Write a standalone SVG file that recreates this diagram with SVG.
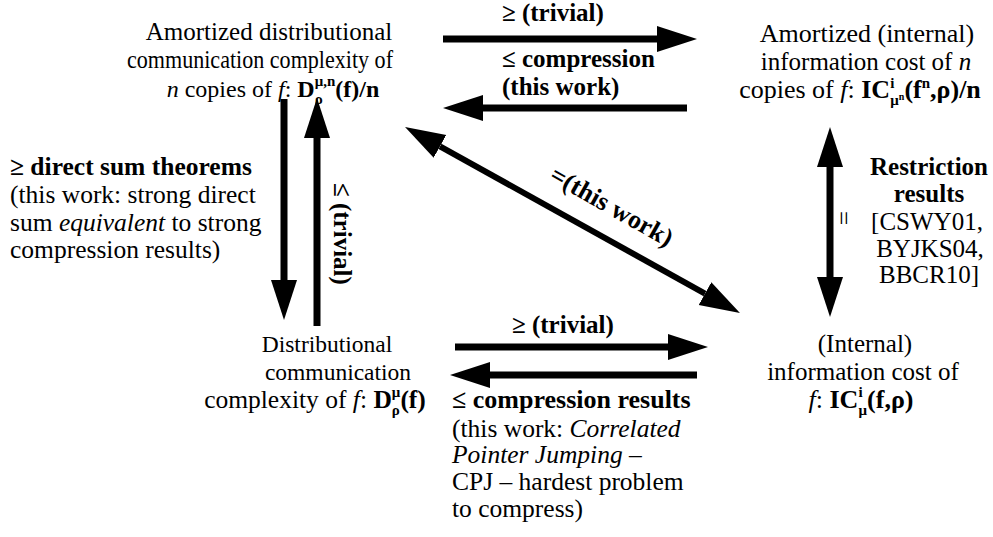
<svg xmlns="http://www.w3.org/2000/svg" width="993" height="537" viewBox="0 0 993 537">
<style>
text { font-family: "Liberation Serif", "Times New Roman", serif; font-size: 25px; fill: #000; }
.b { font-weight: bold; }
.i { font-style: italic; }
.m { text-anchor: middle; }
.ln { stroke: #000; stroke-width: 7; fill: none; }
</style>
<defs>
<marker id="ah" markerUnits="userSpaceOnUse" markerWidth="42" markerHeight="28" refX="0" refY="13" orient="auto-start-reverse" viewBox="0 0 42 28">
<polygon points="0,0 40,13 0,26" fill="#000"/>
</marker>
</defs>
<rect width="993" height="537" fill="#fff"/>

<g id="connectors">
<line class="ln" x1="443" y1="39" x2="657" y2="39" marker-end="url(#ah)"/>
<line class="ln" x1="687" y1="108" x2="483" y2="108" marker-end="url(#ah)"/>
<line class="ln" x1="284" y1="99" x2="284" y2="280" marker-end="url(#ah)"/>
<line class="ln" x1="317" y1="326" x2="317" y2="138" marker-end="url(#ah)"/>
<line class="ln" x1="440" y1="146.4" x2="705" y2="293.6" marker-start="url(#ah)" marker-end="url(#ah)" style="stroke-width:6"/>
<line class="ln" x1="830" y1="167" x2="830" y2="277" marker-start="url(#ah)" marker-end="url(#ah)"/>
<line class="ln" x1="455" y1="347" x2="668" y2="347" marker-end="url(#ah)"/>
<line class="ln" x1="697" y1="375" x2="490" y2="375" marker-end="url(#ah)"/>
</g>

<g id="n-amortized-dist">
<text class="m" x="269" y="40">Amortized distributional</text>
<text class="m" x="260" y="68" textLength="266" lengthAdjust="spacingAndGlyphs">communication complexity of</text>
<text class="m" x="273" y="97" style="font-size:24px"><tspan class="i">n</tspan> copies of <tspan class="i">f</tspan>: <tspan class="b">D</tspan><tspan class="b" font-size="15" dy="7">ρ</tspan><tspan class="b" font-size="15" dx="-8" dy="-18">μ,n</tspan><tspan class="b" dy="11">(f)/n</tspan></text>
</g>

<g id="n-amortized-ic">
<text class="m" x="867" y="42" style="font-size:26px">Amortized (internal)</text>
<text class="m" x="866" y="70">information cost of <tspan class="i">n</tspan></text>
<text class="m" x="860" y="98" style="font-size:26px">copies of <tspan class="i">f</tspan>: <tspan class="b">IC</tspan><tspan class="b" font-size="15" dy="-10">i</tspan><tspan class="b" font-size="15" dx="-4" dy="17">μ</tspan><tspan class="b" font-size="10" dy="-5">n</tspan><tspan class="b" dy="-2">(f</tspan><tspan class="b" font-size="15" dy="-10">n</tspan><tspan class="b" dy="10">,ρ)/n</tspan></text>
</g>

<g id="n-dist">
<text class="m" x="327" y="352" style="font-size:23.5px">Distributional</text>
<text class="m" x="338" y="380" style="font-size:23.5px">communication</text>
<text class="m" x="315" y="408" style="font-size:25.5px">complexity of <tspan class="i">f</tspan>: <tspan class="b">D</tspan><tspan class="b" font-size="15" dy="7">ρ</tspan><tspan class="b" font-size="15" dx="-8" dy="-18">μ</tspan><tspan class="b" dy="11">(f)</tspan></text>
</g>

<g id="n-ic">
<text class="m" x="865" y="352">(Internal)</text>
<text class="m" x="863" y="380">information cost of</text>
<text class="m" x="861" y="408" style="font-size:26px"><tspan class="i">f</tspan>: <tspan class="b">IC</tspan><tspan class="b" font-size="15" dy="-11">i</tspan><tspan class="b" font-size="15" dx="-4" dy="18">μ</tspan><tspan class="b" dy="-7">(f,ρ)</tspan></text>
</g>

<g id="labels">
<text class="b" x="502" y="21">≥ (trivial)</text>
<text class="b" x="502" y="67">≤ compression</text>
<text class="b" x="502" y="95">(this work)</text>

<text class="b" x="10" y="175" style="font-size:25.5px">≥ direct sum theorems</text>
<text x="10" y="203" style="font-size:25.5px">(this work: strong direct</text>
<text x="10" y="231" style="font-size:25.5px">sum <tspan class="i">equivalent</tspan> to strong</text>
<text x="10" y="258" style="font-size:25.5px">compression results)</text>

<text class="b" transform="translate(334,183) rotate(90)">≤ (trivial)</text>
<text class="b" transform="translate(548,180) rotate(29.5)" style="font-size:26px">=(this work)</text>
<text class="m" transform="translate(835,218) rotate(90)">=</text>

<text class="b m" x="929" y="175">Restriction</text>
<text class="b m" x="929" y="202">results</text>
<text class="m" x="927" y="230">[CSWY01,</text>
<text class="m" x="930" y="257">BYJKS04,</text>
<text class="m" x="929" y="283">BBCR10]</text>

<text class="b" x="512" y="333">≥ (trivial)</text>
<text class="b" x="452" y="408" style="font-size:26px">≤ compression results</text>
<text x="452" y="437" style="font-size:25.5px">(this work: <tspan class="i">Correlated</tspan></text>
<text x="452" y="463" style="font-size:25.5px"><tspan class="i">Pointer Jumping</tspan> –</text>
<text x="452" y="490" style="font-size:25.5px">CPJ – hardest problem</text>
<text x="452" y="517" style="font-size:25.5px">to compress)</text>
</g>
</svg>
